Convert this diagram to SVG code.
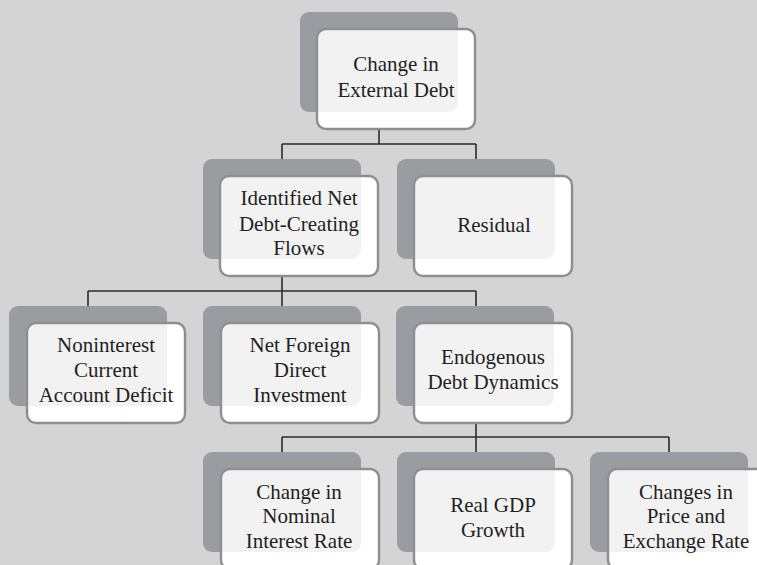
<svg xmlns="http://www.w3.org/2000/svg" width="757" height="565" viewBox="0 0 757 565">
<style>
.bg{fill:#d4d4d4}
.back{fill:#9c9da1}
.front{fill:#ffffff;stroke:#8e8e8f;stroke-width:2.4}
.tint{fill:#9c9da1;opacity:0.13}
.t{font-family:"Liberation Serif","Times New Roman",serif;font-size:21px;fill:#231f20;text-anchor:middle}
.c{fill:none;stroke:#2b2b2b;stroke-width:1.6}
</style>
<rect class="bg" x="0" y="0" width="757" height="565"/>
<g id="connectors">
<path class="c" d="M379,129 V144 M282,144 H476 M282,144 V159 M476,144 V159"/>
<path class="c" d="M282,276 V306 M88,291 H476 M88,291 V306 M476,291 V306"/>
<path class="c" d="M476,423 V452 M282,437 H669 M282,437 V452 M669,437 V452"/>
</g>
<g id="n-change-debt">
<rect class="back" x="300" y="12" width="158" height="100" rx="9"/>
<rect class="front" x="317" y="29" width="158" height="100" rx="9"/>
<rect class="tint" x="300" y="12" width="158" height="100" rx="9"/>
<text class="t" x="396" y="71">Change in</text>
<text class="t" x="396" y="97">External Debt</text>
</g>
<g id="n-identified">
<rect class="back" x="203" y="159" width="158" height="100" rx="9"/>
<rect class="front" x="220" y="176" width="158" height="100" rx="9"/>
<rect class="tint" x="203" y="159" width="158" height="100" rx="9"/>
<text class="t" x="299" y="205">Identified Net</text>
<text class="t" x="299" y="231">Debt-Creating</text>
<text class="t" x="299" y="255">Flows</text>
</g>
<g id="n-residual">
<rect class="back" x="397" y="159" width="158" height="100" rx="9"/>
<rect class="front" x="414" y="176" width="158" height="100" rx="9"/>
<rect class="tint" x="397" y="159" width="158" height="100" rx="9"/>
<text class="t" x="494" y="232">Residual</text>
</g>
<g id="n-noninterest">
<rect class="back" x="9" y="306" width="158" height="100" rx="9"/>
<rect class="front" x="27" y="323" width="158" height="100" rx="9"/>
<rect class="tint" x="9" y="306" width="158" height="100" rx="9"/>
<text class="t" x="106" y="352">Noninterest</text>
<text class="t" x="106" y="377">Current</text>
<text class="t" x="106" y="402">Account Deficit</text>
</g>
<g id="n-fdi">
<rect class="back" x="203" y="306" width="158" height="100" rx="9"/>
<rect class="front" x="221" y="323" width="158" height="100" rx="9"/>
<rect class="tint" x="203" y="306" width="158" height="100" rx="9"/>
<text class="t" x="300" y="352">Net Foreign</text>
<text class="t" x="300" y="377">Direct</text>
<text class="t" x="300" y="402">Investment</text>
</g>
<g id="n-endogenous">
<rect class="back" x="396" y="306" width="158" height="100" rx="9"/>
<rect class="front" x="414" y="323" width="158" height="100" rx="9"/>
<rect class="tint" x="396" y="306" width="158" height="100" rx="9"/>
<text class="t" x="493" y="364">Endogenous</text>
<text class="t" x="493" y="389">Debt Dynamics</text>
</g>
<g id="n-interest">
<rect class="back" x="203" y="452" width="158" height="100" rx="9"/>
<rect class="front" x="221" y="469" width="158" height="100" rx="9"/>
<rect class="tint" x="203" y="452" width="158" height="100" rx="9"/>
<text class="t" x="299" y="499">Change in</text>
<text class="t" x="299" y="523">Nominal</text>
<text class="t" x="299" y="548">Interest Rate</text>
</g>
<g id="n-gdp">
<rect class="back" x="397" y="452" width="158" height="100" rx="9"/>
<rect class="front" x="414" y="469" width="158" height="100" rx="9"/>
<rect class="tint" x="397" y="452" width="158" height="100" rx="9"/>
<text class="t" x="493" y="512">Real GDP</text>
<text class="t" x="493" y="537">Growth</text>
</g>
<g id="n-price">
<rect class="back" x="590" y="452" width="158" height="100" rx="9"/>
<rect class="front" x="608" y="469" width="158" height="100" rx="9"/>
<rect class="tint" x="590" y="452" width="158" height="100" rx="9"/>
<text class="t" x="686" y="499">Changes in</text>
<text class="t" x="686" y="523">Price and</text>
<text class="t" x="686" y="548">Exchange Rate</text>
</g>
</svg>
